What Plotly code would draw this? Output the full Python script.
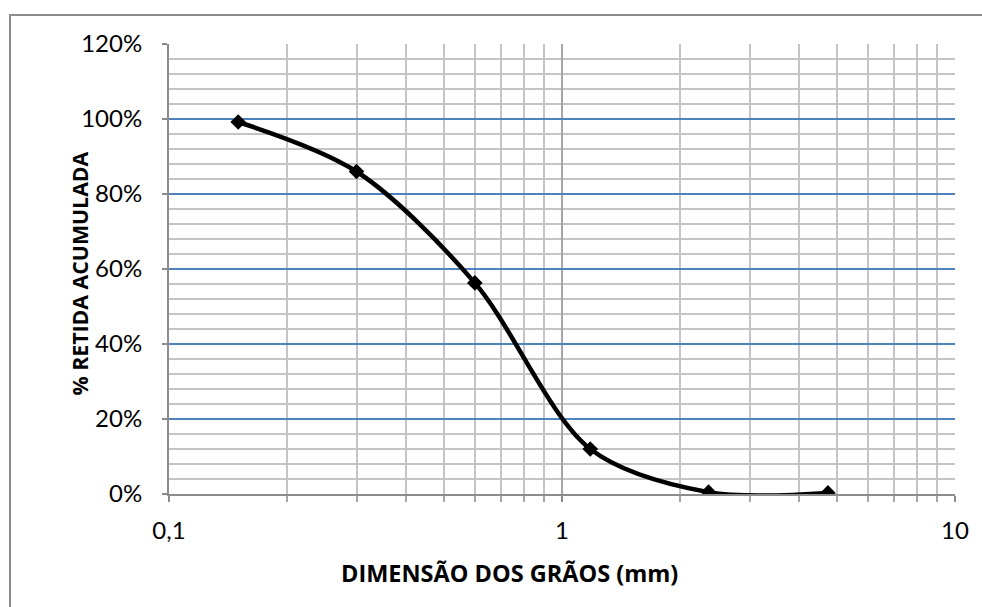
import plotly.graph_objects as go

# Sieve openings (mm) and cumulative retained fraction
abertura_mm = [0.15, 0.3, 0.6, 1.18, 2.36, 4.75]
retida_acumulada = [0.992, 0.86, 0.563, 0.12, 0.005, 0.003]

x_ticks = [0.1, 1, 10]
x_ticktext = ["0,1", "1", "10"]
x_minor = [0.2, 0.3, 0.4, 0.5, 0.6, 0.7, 0.8, 0.9, 2, 3, 4, 5, 6, 7, 8, 9]

W, H = 982, 607
L, R, T, B = 169, 27, 44, 113
pw, ph = W - L - R, H - T - B

font = "Lato, 'Open Sans', sans-serif"
title_font = "'Open Sans', Lato, sans-serif"

fig = go.Figure()
fig.add_trace(go.Scatter(
    x=abertura_mm, y=retida_acumulada,
    mode="lines+markers",
    line=dict(color="black", width=4.5, shape="spline", smoothing=0.9),
    marker=dict(symbol="diamond", size=12, color="black"),
    showlegend=False,
))


def px_x(p):
    return (p - L) / pw


def px_y(p):
    return 1 - (p - T) / ph


# outer chart frame
fig.add_shape(type="rect", xref="paper", yref="paper",
              x0=px_x(10), x1=px_x(1000), y0=px_y(15), y1=px_y(700),
              line=dict(color="#8c8c8c", width=2), layer="below")

fig.update_layout(
    width=W, height=H,
    margin=dict(l=L, r=R, t=T, b=B),
    paper_bgcolor="white", plot_bgcolor="white",
    font=dict(family=font, size=24, color="black"),
    xaxis=dict(
        type="log", range=[-1, 1],
        tickvals=x_ticks, ticktext=x_ticktext,
        showgrid=True, gridcolor="#a6a6a6", gridwidth=1.5,
        showline=True, linecolor="#8c8c8c", linewidth=2,
        ticks="outside", ticklen=6, tickcolor="#8c8c8c", tickwidth=2,
        ticklabelstandoff=8,
        minor=dict(tickvals=x_minor, showgrid=True, gridcolor="#c4c4c4", gridwidth=1.5,
                   ticks="outside", ticklen=6, tickcolor="#a6a6a6", tickwidth=1.5),
        zeroline=False,
    ),
    yaxis=dict(
        range=[0, 1.2], dtick=0.2, tickformat=".0%",
        showgrid=True, gridcolor="#4f81bd", gridwidth=1.5,
        showline=True, linecolor="#8c8c8c", linewidth=2,
        ticks="outside", ticklen=5, tickcolor="#8c8c8c", tickwidth=2,
        ticklabelstandoff=15,
        minor=dict(dtick=0.04, showgrid=True, gridcolor="#c4c4c4", gridwidth=1.5),
        zeroline=False,
    ),
)

fig.add_annotation(text="<b>DIMENSÃO DOS GRÃOS (mm)</b>", xref="paper", yref="paper",
                   x=px_x(509), y=px_y(591), showarrow=False,
                   font=dict(family=title_font, size=23.5))
fig.add_annotation(text="<b>% RETIDA ACUMULADA</b>", xref="paper", yref="paper",
                   x=px_x(62), y=px_y(274), showarrow=False, textangle=-90,
                   font=dict(family=title_font, size=21.3))

fig.write_html("out.html")
